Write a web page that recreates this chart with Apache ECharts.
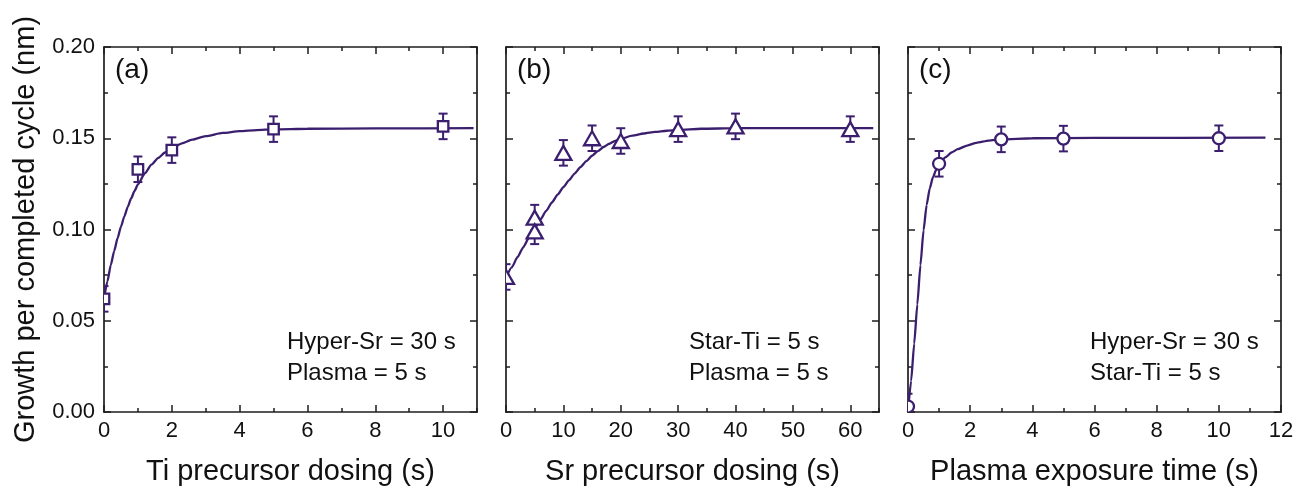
<!DOCTYPE html>
<html>
<head>
<meta charset="utf-8">
<script src="https://cdn.jsdelivr.net/npm/echarts@6/dist/echarts.min.js"></script>
<style>
  html, body { margin: 0; padding: 0; background: #fff; }
  #chart { width: 1296px; height: 486px; }
</style>
</head>
<body>
<div id="chart"></div>
<script>
// (a) Ti precursor dosing series
const tiDose = [0, 1, 2, 5, 10];
const tiGpc  = [0.062, 0.133, 0.1435, 0.155, 0.1565];
const tiErr  = [0.007, 0.007, 0.007, 0.007, 0.007];
const tiFitX = [0, 0.1, 0.2, 0.3, 0.4, 0.5, 0.6, 0.7, 0.8, 0.9, 1.0, 1.2, 1.4, 1.6, 1.8, 2.0, 2.3, 2.6, 3.0, 3.5, 4.0, 4.5, 5.0, 6.0, 8.0, 10.9];
const tiFitY = [0.062, 0.0715, 0.0805, 0.0882, 0.0952, 0.1015, 0.1072, 0.1124, 0.1170, 0.1211, 0.1247, 0.1307, 0.1355, 0.1392, 0.1422,
                0.1446, 0.1472, 0.1492, 0.1512, 0.1529, 0.1539, 0.1545, 0.1549, 0.1552, 0.1554, 0.1555];

// (b) Sr precursor dosing series
const srDose = [0, 5, 5, 10, 15, 20, 30, 40, 60];
const srGpc  = [0.074, 0.1065, 0.099, 0.142, 0.150, 0.1485, 0.155, 0.1565, 0.155];
const srErr  = [0.007, 0.007, 0.007, 0.007, 0.007, 0.007, 0.007, 0.007, 0.007];
const srFitX = [0, 1, 2, 3, 4, 5, 6, 7, 8, 9, 10, 11, 12, 13, 14, 15, 16, 17, 18, 19, 20, 22, 24, 26, 28, 30, 34, 40, 50, 64];
const srFitY = [0.0735, 0.0792, 0.0848, 0.0902, 0.0955, 0.1006, 0.1055, 0.1102, 0.1148, 0.1191, 0.1232, 0.1271, 0.1308, 0.1343,
                0.1375, 0.1404, 0.1430, 0.1452, 0.1470, 0.1485, 0.1497, 0.1514, 0.1526, 0.1535, 0.1541, 0.1546, 0.1552, 0.1555,
                0.1556, 0.1555];

// (c) Plasma exposure series
const plasmaTime = [0, 1, 3, 5, 10];
const plasmaGpc  = [0.003, 0.136, 0.1494, 0.1498, 0.150];
const plasmaErr  = [0.007, 0.007, 0.007, 0.007, 0.007];
const plasmaFitX = [0, 0.1, 0.2, 0.3, 0.4, 0.5, 0.6, 0.7, 0.8, 0.9, 1.0, 1.2, 1.4, 1.6, 1.9, 2.2, 2.6, 3.0, 4.0, 6.0, 11.5];
const plasmaFitY = [0.0, 0.017, 0.0375, 0.059, 0.0805, 0.0995, 0.1135, 0.1225, 0.1285, 0.1325, 0.1355, 0.1395, 0.1422, 0.1440,
                    0.1460, 0.1475, 0.1487, 0.1494, 0.1500, 0.1502, 0.1503];

// axis ranges: [min, max, major step, minor step]
const tiAxis     = [0, 11, 2, 1];
const srAxis     = [0, 65, 10, 5];
const plasmaAxis = [0, 12, 2, 1];
const gpcAxis    = [0, 0.20, 0.05];

const xTitles = ['Ti precursor dosing (s)', 'Sr precursor dosing (s)', 'Plasma exposure time (s)'];
const yTitle = 'Growth per completed cycle (nm)';
const panelTags = ['(a)', '(b)', '(c)'];
const notes = [
  'Hyper-Sr = 30 s\nPlasma = 5 s',
  'Star-Ti = 5 s\nPlasma = 5 s',
  'Hyper-Sr = 30 s\nStar-Ti = 5 s'
];

const INK = '#3b1f6e';
const AXIS = '#1e1e1e';
const FONT = '"Liberation Sans", Arial, sans-serif';

const panels = [
  { dose: tiDose, gpc: tiGpc, err: tiErr, fx: tiFitX, fy: tiFitY, axis: tiAxis, symbol: 'rect' },
  { dose: srDose, gpc: srGpc, err: srErr, fx: srFitX, fy: srFitY, axis: srAxis, symbol: 'triangle' },
  { dose: plasmaTime, gpc: plasmaGpc, err: plasmaErr, fx: plasmaFitX, fy: plasmaFitY, axis: plasmaAxis, symbol: 'circle' }
];

// plot boxes (left edge in px); all share the same top/height/width
const boxLeft = [104, 506, 908];
const boxW = 373, boxTop = 47, boxH = 365;

const grids = [], xAxes = [], yAxes = [], series = [];
const tickLine = { color: AXIS, width: 1.5 };

function errorBars(params, api) {
  const x = api.value(0);
  const top = api.coord([x, api.value(2)]);
  const bot = api.coord([x, api.value(1)]);
  const cap = 4.5;
  const style = { stroke: INK, lineWidth: 2, fill: null };
  return {
    type: 'group',
    children: [
      { type: 'line', shape: { x1: top[0], y1: top[1], x2: bot[0], y2: bot[1] }, style },
      { type: 'line', shape: { x1: top[0] - cap, y1: top[1], x2: top[0] + cap, y2: top[1] }, style },
      { type: 'line', shape: { x1: bot[0] - cap, y1: bot[1], x2: bot[0] + cap, y2: bot[1] }, style }
    ]
  };
}

// hollow markers drawn as shapes so they are cut at the plot frame
function markerRenderer(kind) {
  return function (params, api) {
    const c = api.coord([api.value(0), api.value(1)]);
    const style = { fill: '#fff', stroke: INK, lineWidth: 2.3 };
    if (kind === 'rect') {
      const s = 10.5;
      return { type: 'rect', shape: { x: c[0] - s / 2, y: c[1] - s / 2, width: s, height: s }, style };
    }
    if (kind === 'circle') {
      return { type: 'circle', shape: { cx: c[0], cy: c[1], r: 6 }, style };
    }
    const w = 16, h = 14;
    return {
      type: 'polygon',
      shape: { points: [[c[0], c[1] - h / 2], [c[0] + w / 2, c[1] + h / 2], [c[0] - w / 2, c[1] + h / 2]] },
      style
    };
  };
}

panels.forEach((p, i) => {
  const [xMin, xMax, xStep, xMinor] = p.axis;
  const g = grids.length;
  // main grid and an overlaid grid carrying the minor x ticks
  grids.push({ left: boxLeft[i], top: boxTop, width: boxW, height: boxH, containLabel: false, outerBoundsMode: 'none' });
  grids.push({ left: boxLeft[i], top: boxTop, width: boxW, height: boxH, containLabel: false, outerBoundsMode: 'none' });

  const xBottom = xAxes.length;
  xAxes.push({
    gridIndex: g, type: 'value', position: 'bottom', min: xMin, max: xMax, interval: xStep,
    axisLine: { show: true, onZero: false, lineStyle: { color: AXIS, width: 1.7 } },
    axisTick: { show: true, inside: true, length: 7, lineStyle: tickLine },
    axisLabel: { show: true, color: '#111', fontSize: 22, fontFamily: FONT, margin: 8,
                 showMaxLabel: xMax % xStep === 0, showMinLabel: true },
    splitLine: { show: false },
    name: xTitles[i], nameLocation: 'middle', nameGap: 45,
    nameTextStyle: { color: '#111', fontSize: 29, fontFamily: FONT }
  });
  xAxes.push({
    gridIndex: g, type: 'value', position: 'top', min: xMin, max: xMax, interval: xStep,
    axisLine: { show: true, onZero: false, lineStyle: { color: AXIS, width: 1.7 } },
    axisTick: { show: true, inside: true, length: 7, lineStyle: tickLine },
    axisLabel: { show: false }, splitLine: { show: false }
  });
  xAxes.push({
    gridIndex: g + 1, type: 'value', position: 'bottom', min: xMin, max: xMax, interval: xMinor,
    axisLine: { show: false, onZero: false },
    axisTick: { show: true, inside: true, length: 4, lineStyle: tickLine },
    axisLabel: { show: false }, splitLine: { show: false }
  });
  xAxes.push({
    gridIndex: g + 1, type: 'value', position: 'top', min: xMin, max: xMax, interval: xMinor,
    axisLine: { show: false, onZero: false },
    axisTick: { show: true, inside: true, length: 4, lineStyle: tickLine },
    axisLabel: { show: false }, splitLine: { show: false }
  });

  const yLeft = yAxes.length;
  const yBase = {
    type: 'value', min: gpcAxis[0], max: gpcAxis[1], interval: gpcAxis[2],
    axisLine: { show: true, onZero: false, lineStyle: { color: AXIS, width: 1.7 } },
    axisTick: { show: true, inside: true, length: 7, lineStyle: tickLine },
    minorTick: { show: true, splitNumber: 2, length: 4, lineStyle: tickLine },
    splitLine: { show: false }, minorSplitLine: { show: false }
  };
  yAxes.push(Object.assign({}, yBase, {
    gridIndex: g, position: 'left',
    axisLabel: { show: i === 0, color: '#111', fontSize: 22, fontFamily: FONT, margin: 9,
                 formatter: v => v.toFixed(2) },
    name: i === 0 ? yTitle : '', nameLocation: 'middle', nameGap: 64,
    nameTextStyle: { color: '#111', fontSize: 29, fontFamily: FONT }
  }));
  yAxes.push(Object.assign({}, yBase, { gridIndex: g, position: 'right', axisLabel: { show: false } }));
  yAxes.push({ gridIndex: g + 1, type: 'value', min: gpcAxis[0], max: gpcAxis[1], show: false });

  // fitted curve
  series.push({
    type: 'line', xAxisIndex: xBottom, yAxisIndex: yLeft,
    data: p.fx.map((x, k) => [x, p.fy[k]]),
    smooth: 0.2, smoothMonotone: 'x', showSymbol: false, symbol: 'none', clip: true,
    lineStyle: { color: INK, width: 2.3 }, z: 2, silent: true
  });
  // error bars
  series.push({
    type: 'custom', xAxisIndex: xBottom, yAxisIndex: yLeft, clip: true,
    data: p.dose.map((x, k) => [x, p.gpc[k] - p.err[k], p.gpc[k] + p.err[k]]),
    encode: { x: 0, y: [1, 2] },
    renderItem: errorBars, z: 3, silent: true
  });
  // hollow markers
  series.push({
    type: 'custom', xAxisIndex: xBottom, yAxisIndex: yLeft, clip: true,
    data: p.dose.map((x, k) => [x, p.gpc[k]]),
    encode: { x: 0, y: 1 },
    renderItem: markerRenderer(p.symbol), z: 4, silent: true
  });
});

const graphic = [];
panelTags.forEach((t, i) => {
  graphic.push({
    type: 'text', left: boxLeft[i] + 11, top: 56,
    style: { text: t, font: '28px ' + FONT, fill: '#111' }
  });
});
const noteLeft = [287, 689, 1090];
notes.forEach((t, i) => {
  graphic.push({
    type: 'text', left: noteLeft[i], top: 327,
    style: { text: t, font: '24px ' + FONT, lineHeight: 31, fill: '#111' }
  });
});

const chart = echarts.init(document.getElementById('chart'), null, { renderer: 'canvas' });
chart.setOption({
  backgroundColor: '#fff',
  animation: false,
  textStyle: { fontFamily: FONT },
  grid: grids,
  xAxis: xAxes,
  yAxis: yAxes,
  series: series,
  graphic: graphic
});
</script>
</body>
</html>
